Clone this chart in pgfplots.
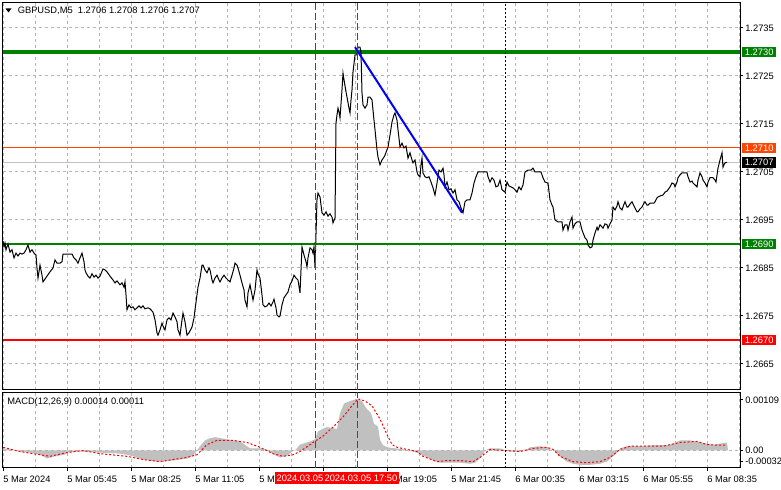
\documentclass[border=0pt]{standalone}
\usepackage{pgfplots}
\pgfplotsset{compat=1.18}
\usepackage{fontspec}
\setmainfont{Liberation Sans}
\definecolor{mtgreen}{HTML}{008000}
\definecolor{mtorange}{HTML}{FF4500}
\definecolor{mtred}{HTML}{FF0000}
\definecolor{mtsilver}{HTML}{C0C0C0}
\definecolor{mtgrid}{HTML}{B4B4B4}
\newcommand\fs{\fontsize{7pt}{8pt}\selectfont}
\pgfplotsset{mtaxis/.style={scale only axis, width=553.125pt, xmin=2.5, xmax=740,
  axis line style={line width=0.75pt}, clip=false, scaled ticks=false,
  xtick={3,67,...,707}, minor xtick={35,99,...,739}, xmajorgrids, xminorgrids,
  major grid style={mtgrid, dash pattern=on 2.25pt off 2.25pt, line width=0.75pt},
  minor grid style={mtgrid, dash pattern=on 2.25pt off 2.25pt, line width=0.75pt},
  tick align=outside, major tick length=2.25pt, minor tick length=0pt,
  ytick pos=right, xtick pos=bottom, tick style={black, line width=0.75pt},
  tick label style={font=\fs, text=black},
  yticklabel style={anchor=west, inner sep=0pt, xshift=1.5pt},
  /pgf/number format/assume math mode=true}}
\begin{document}
\begin{tikzpicture}[x=0.75pt,y=0.75pt,font=\fs]
\path[use as bounding box, fill=white] (0,0) rectangle (781,489);
% ---------------- main price panel ----------------
\begin{axis}[mtaxis, at={(1.875pt,74.25pt)}, anchor=south west, height=290.625pt,
  ymin=1.265958, ymax=1.274031,
  xticklabels={}, xtick style={draw=none},
  ymajorgrids,
  ytick={1.2665,1.2675,1.2685,1.2695,1.2705,1.2715,1.2725,1.2735},
  yticklabels={1.2665,1.2675,1.2685,1.2695,1.2705,1.2715,1.2725,1.2735}]
\addplot[mtsilver, line width=0.75pt] coordinates {(2.5,1.2707) (740,1.2707)};
\addplot[mtorange, line width=0.75pt] coordinates {(2.5,1.2710) (740,1.2710)};
\addplot[mtgreen, line width=3pt] coordinates {(2.5,1.2730) (740,1.2730)};
\addplot[mtgreen, line width=1.6pt] coordinates {(2.5,1.2690) (740,1.2690)};
\addplot[mtred, line width=1.6pt] coordinates {(2.5,1.2670) (740,1.2670)};
\addplot[black, line width=0.75pt] table {
3 1.26906
4 1.26894
5 1.26902
6 1.26888
8 1.26900
10 1.26883
12 1.26888
14 1.26871
16 1.26881
18 1.26875
20 1.26881
22 1.26879
24 1.26881
26 1.26888
28 1.26898
30 1.26883
32 1.26888
34 1.26881
36 1.26877
37 1.26850
38 1.26829
40 1.26856
42 1.26835
43 1.26821
45 1.26827
47 1.26833
50 1.26842
53 1.26850
55 1.26867
57 1.26860
60 1.26860
62 1.26863
63 1.26879
67 1.26879
72 1.26879
74 1.26871
76 1.26867
78 1.26860
80 1.26871
82 1.26881
84 1.26863
85 1.26846
86 1.26840
88 1.26833
90 1.26829
92 1.26838
94 1.26831
96 1.26835
98 1.26829
100 1.26833
103 1.26848
105 1.26846
107 1.26842
110 1.26833
113 1.26825
115 1.26819
117 1.26823
120 1.26815
122 1.26819
124 1.26810
125 1.26821
126 1.26794
127 1.26763
129 1.26773
131 1.26767
133 1.26769
135 1.26763
137 1.26767
139 1.26771
141 1.26767
143 1.26771
145 1.26765
148 1.26767
150 1.26765
153 1.26758
155 1.26742
157 1.26715
158 1.26710
160 1.26721
162 1.26735
163 1.26729
165 1.26721
167 1.26742
169 1.26746
171 1.26742
173 1.26756
175 1.26748
177 1.26738
178 1.26721
180 1.26710
182 1.26742
183 1.26756
185 1.26738
187 1.26710
189 1.26715
192 1.26727
194 1.26746
195 1.26763
197 1.26794
198 1.26810
200 1.26829
202 1.26856
203 1.26856
205 1.26846
207 1.26840
209 1.26850
210 1.26846
212 1.26825
213 1.26819
215 1.26829
217 1.26835
219 1.26825
220 1.26821
222 1.26829
224 1.26835
226 1.26829
228 1.26825
230 1.26821
232 1.26835
234 1.26850
235 1.26860
237 1.26856
238 1.26850
240 1.26835
242 1.26819
244 1.26804
245 1.26783
247 1.26769
248 1.26798
250 1.26815
252 1.26794
253 1.26783
255 1.26804
257 1.26846
258 1.26838
260 1.26829
262 1.26794
263 1.26773
265 1.26769
267 1.26771
269 1.26777
271 1.26771
273 1.26779
274 1.26785
276 1.26767
277 1.26752
279 1.26748
280 1.26750
282 1.26773
284 1.26788
286 1.26794
288 1.26800
290 1.26815
292 1.26823
294 1.26835
296 1.26829
298 1.26825
300 1.26798
301 1.26846
302 1.26894
304 1.26877
306 1.26863
307 1.26852
308 1.26871
310 1.26892
312 1.26888
313 1.26881
314 1.26894
315 1.26850
317 1.26992
318 1.27006
320 1.26998
322 1.26965
324 1.26960
326 1.26967
328 1.26958
330 1.26963
332 1.26956
333 1.26944
335 1.26954
336 1.27152
337 1.27169
338 1.27183
339 1.27175
340 1.27163
342 1.27221
343 1.27256
344 1.27242
346 1.27217
347 1.27206
349 1.27183
350 1.27173
351 1.27200
352 1.27221
353 1.27258
355 1.27294
357 1.27294
358 1.27310
360 1.27310
361 1.27298
362 1.27215
363 1.27190
365 1.27183
367 1.27190
368 1.27206
370 1.27206
372 1.27200
374 1.27158
375 1.27138
377 1.27096
378 1.27081
380 1.27065
382 1.27075
384 1.27081
385 1.27085
388 1.27102
390 1.27127
392 1.27154
394 1.27169
395 1.27173
397 1.27158
398 1.27138
400 1.27102
402 1.27110
404 1.27100
406 1.27104
408 1.27079
410 1.27090
412 1.27075
413 1.27069
415 1.27075
417 1.27050
418 1.27044
420 1.27040
421 1.27065
422 1.27079
423 1.27048
425 1.27040
427 1.27038
429 1.27040
431 1.27029
433 1.27017
435 1.27002
437 1.27027
439 1.27054
441 1.27050
443 1.27058
444 1.27044
445 1.27019
447 1.27029
449 1.27013
451 1.27015
453 1.27006
455 1.27013
457 1.26992
459 1.26988
461 1.26975
463 1.26965
465 1.26988
467 1.26992
470 1.26992
472 1.27006
474 1.27027
476 1.27040
478 1.27050
481 1.27050
484 1.27050
487 1.27050
488 1.27040
490 1.27029
492 1.27038
494 1.27033
496 1.27019
498 1.27021
500 1.27033
502 1.27013
505 1.27008
507 1.27029
509 1.27021
511 1.27019
513 1.27017
515 1.27013
517 1.27008
519 1.27019
521 1.27013
523 1.27023
525 1.27050
528 1.27054
531 1.27054
533 1.27058
535 1.27050
538 1.27050
541 1.27050
543 1.27038
545 1.27029
548 1.27027
550 1.26992
552 1.26981
553 1.26977
555 1.26950
558 1.26946
562 1.26946
563 1.26929
565 1.26940
567 1.26940
568 1.26929
570 1.26946
572 1.26956
573 1.26933
575 1.26942
577 1.26946
580 1.26946
582 1.26929
585 1.26913
587 1.26908
588 1.26898
590 1.26892
592 1.26894
593 1.26908
595 1.26923
597 1.26935
598 1.26929
600 1.26940
603 1.26933
605 1.26942
607 1.26940
608 1.26933
610 1.26942
612 1.26950
613 1.26977
615 1.26971
617 1.26979
618 1.26988
620 1.26975
622 1.26971
624 1.26983
625 1.26988
627 1.26977
628 1.26977
630 1.26983
632 1.26988
634 1.26979
635 1.26975
637 1.26967
638 1.26967
640 1.26973
642 1.26977
644 1.26985
645 1.26988
647 1.26981
648 1.26981
650 1.26985
652 1.26985
654 1.26985
655 1.26988
657 1.26996
658 1.26998
660 1.27000
663 1.27002
665 1.27008
667 1.27010
668 1.27013
670 1.27019
672 1.27027
674 1.27025
675 1.27019
677 1.27029
678 1.27038
680 1.27044
682 1.27048
685 1.27048
687 1.27048
688 1.27040
690 1.27029
692 1.27031
693 1.27027
695 1.27023
697 1.27019
698 1.27033
700 1.27048
702 1.27040
703 1.27033
705 1.27027
707 1.27019
708 1.27029
710 1.27038
712 1.27038
713 1.27038
715 1.27033
716 1.27029
718 1.27058
720 1.27075
722 1.27090
723 1.27060
724 1.27065
725 1.27069
727 1.27070
};
\addplot[blue, line width=1.5pt] coordinates {(355,1.27310) (462,1.26965)};
\draw[mtred, line width=0.75pt, dash pattern=on 5.25pt off 2.25pt] (axis cs:315,1.265958) -- (axis cs:315,1.274031);
\draw[mtred, line width=0.75pt, dash pattern=on 5.25pt off 2.25pt] (axis cs:357,1.265958) -- (axis cs:357,1.274031);
\draw[black, line width=0.75pt, dash pattern=on 1.5pt off 1.5pt] (axis cs:505,1.265958) -- (axis cs:505,1.274031);
\node[fill=mtgreen, text=white, anchor=west, inner xsep=2pt, inner ysep=0pt, minimum height=8pt, xshift=1.5pt] at (axis cs:740,1.2730) {1.2730};
\node[fill=mtorange, text=white, anchor=west, inner xsep=2pt, inner ysep=0pt, minimum height=8pt, xshift=1.5pt] at (axis cs:740,1.2710) {1.2710};
\node[fill=black, text=white, anchor=west, inner xsep=2pt, inner ysep=0pt, minimum height=8pt, xshift=1.5pt] at (axis cs:740,1.2707) {1.2707};
\node[fill=mtgreen, text=white, anchor=west, inner xsep=2pt, inner ysep=0pt, minimum height=8pt, xshift=1.5pt] at (axis cs:740,1.2690) {1.2690};
\node[fill=mtred, text=white, anchor=west, inner xsep=2pt, inner ysep=0pt, minimum height=8pt, xshift=1.5pt] at (axis cs:740,1.2670) {1.2670};
\end{axis}
% ---------------- MACD panel ----------------
\begin{axis}[mtaxis, at={(1.875pt,16.125pt)}, anchor=south west, height=56.25pt,
  ymin=-0.00032, ymax=0.00109,
  xticklabels={5 Mar 2024,5 Mar 05:45,5 Mar 08:25,5 Mar 11:05,5 Mar 13:45,,5 Mar 19:05,5 Mar 21:45,6 Mar 00:35,6 Mar 03:15,6 Mar 05:55,6 Mar 08:35},
  xticklabel style={anchor=north west, inner sep=0pt, yshift=-3.75pt},
  ytick={0.00095,0,-0.0002}, yticklabels={0.00109,0.00,-0.00032}]
\addplot[fill=mtsilver, draw=none] table {
2.5 0
3 0.00004
10 0.00002
20 -0.00002
30 -0.00004
40 -0.00008
47 -0.00015
55 -0.00011
65 -0.00008
67 -0.00004
80 -0.00002
100 -0.00004
120 -0.00006
127 -0.00008
133 -0.00011
143 -0.00017
157 -0.00021
173 -0.00019
187 -0.00015
193 -0.00010
197 0
200 0.00008
205 0.00019
210 0.00023
215 0.00025
227 0.00021
240 0.00017
247 0.00008
250 0.00004
260 0.00004
267 0.00002
272 -0.00006
280 -0.00013
287 -0.00010
292 -0.00002
296 0.00002
300 0.00011
310 0.00017
315 0.00021
318 0.00036
322 0.00040
327 0.00044
333 0.00042
337 0.00040
340 0.00070
344 0.00088
350 0.00093
357 0.00097
362 0.00093
366 0.00080
371 0.00070
374 0.00050
378 0.00045
380 0.00020
383 0.00010
387 0.00006
395 0.00004
405 0.00002
413 -0.00002
420 -0.00006
427 -0.00013
433 -0.00019
440 -0.00023
447 -0.00023
460 -0.00023
470 -0.00025
475 -0.00023
480 -0.00015
483 -0.00006
485 0
490 0.00004
500 0.00004
503 0.00002
510 -0.00002
520 -0.00002
527 0.00002
530 0.00006
540 0.00008
547 0.00006
550 0.00002
555 -0.00002
560 -0.00011
567 -0.00021
573 -0.00025
580 -0.00027
590 -0.00027
600 -0.00025
607 -0.00021
613 -0.00011
617 -0.00004
620 0.00004
627 0.00008
640 0.00008
653 0.00010
667 0.00010
673 0.00013
680 0.00019
690 0.00019
697 0.00017
705 0.00013
713 0.00011
720 0.00013
727 0.00015
728 0
} \closedcycle;
\addplot[mtgrid, line width=0.75pt, dash pattern=on 2.25pt off 2.25pt] coordinates {(2.5,0) (740,0)};
\addplot[mtred, line width=0.75pt, dash pattern=on 1.5pt off 1.5pt] table {
3 0.00006
20 -0.00002
33 -0.00006
50 -0.00011
67 -0.00004
83 0
100 -0.00006
127 -0.00011
143 -0.00017
160 -0.00021
173 -0.00017
187 -0.00013
197 -0.00008
207 0.00011
217 0.00019
233 0.00019
247 0.00015
260 0.00006
273 -0.00006
283 -0.00011
293 -0.00008
300 -0.00002
313 0.00015
323 0.00027
333 0.00044
343 0.00063
352 0.00084
358 0.00097
365 0.00093
372 0.00084
380 0.00059
387 0.00030
392 0.00011
397 0.00006
407 0.00002
417 -0.00002
423 -0.00011
437 -0.00021
447 -0.00019
460 -0.00019
473 -0.00021
480 -0.00013
490 0.00002
503 0
520 -0.00002
533 0.00004
547 0.00006
553 0.00002
560 -0.00011
573 -0.00021
587 -0.00023
600 -0.00021
610 -0.00013
620 0.00002
630 0.00008
647 0.00008
663 0.00008
680 0.00015
697 0.00017
707 0.00011
717 0.00010
727 0.00010
};
\draw[mtred, line width=0.75pt, dash pattern=on 5.25pt off 2.25pt] (axis cs:315,-0.00032) -- (axis cs:315,0.00109);
\draw[mtred, line width=0.75pt, dash pattern=on 5.25pt off 2.25pt] (axis cs:357,-0.00032) -- (axis cs:357,0.00109);
\draw[black, line width=0.75pt, dash pattern=on 1.5pt off 1.5pt] (axis cs:505,-0.00032) -- (axis cs:505,0.00109);
\end{axis}
% ---------------- titles and time boxes ----------------
\fill[black] (5.5,480.5) -- (11.5,480.5) -- (8.5,476.5) -- cycle;
\node[anchor=west, inner sep=0pt] at (17.5,478) {GBPUSD,M5\ \ 1.2706 1.2708 1.2706 1.2707};
\node[anchor=west, inner sep=0pt] at (7,87) {MACD(12,26,9) 0.00014 0.00011};
\node[fill=mtred, text=white, anchor=west, inner xsep=1pt, inner ysep=0pt, minimum height=8.5pt] at (275,11) {2024.03.05 16:05};
\node[fill=mtred, text=white, anchor=west, inner xsep=1pt, inner ysep=0pt, minimum height=8.5pt] at (323,11) {2024.03.05 17:50};
\end{tikzpicture}
\end{document}
